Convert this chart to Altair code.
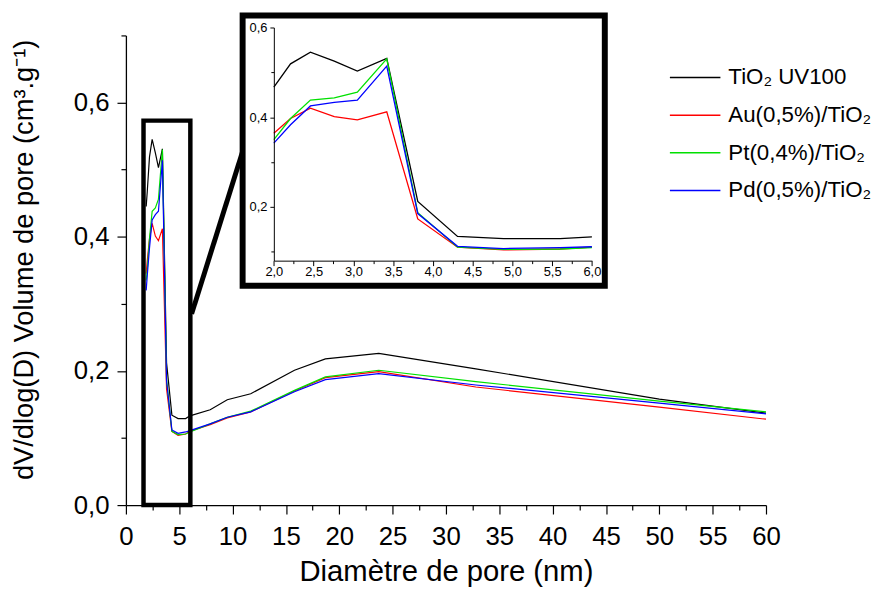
import altair as alt
import pandas as pd

# ---- data ----
diam = [1.9, 2.0, 2.21, 2.46, 2.76, 3.05, 3.42, 3.81, 4.31, 4.89, 5.6, 6.0,
        7.9, 9.5, 11.7, 15.8, 18.7, 23.7, 32.8, 50.0, 60.0]
tio2_uv100 = [0.445, 0.467, 0.519, 0.545, 0.525, 0.503, 0.531, 0.212, 0.134, 0.129, 0.129, 0.133,
              0.142, 0.157, 0.166, 0.201, 0.218, 0.226, 0.203, 0.158, 0.137]
au_tio2 = [0.345, 0.364, 0.397, 0.420, 0.401, 0.394, 0.412, 0.173, 0.110, 0.104, 0.106, 0.110,
           0.120, 0.130, 0.139, 0.170, 0.190, 0.199, 0.176, 0.146, 0.128]
pt_tio2 = [0.335, 0.350, 0.397, 0.438, 0.443, 0.456, 0.530, 0.187, 0.110, 0.105, 0.106, 0.109,
           0.121, 0.131, 0.140, 0.171, 0.191, 0.201, 0.184, 0.155, 0.139]
pd_tio2 = [0.320, 0.342, 0.383, 0.425, 0.433, 0.438, 0.514, 0.185, 0.112, 0.107, 0.109, 0.111,
           0.121, 0.131, 0.139, 0.169, 0.187, 0.196, 0.179, 0.152, 0.136]

series_names = ["TiO\u2082 UV100", "Au(0,5%)/TiO\u2082", "Pt(0,4%)/TiO\u2082", "Pd(0,5%)/TiO\u2082"]
series_colors = ["#000000", "#ff0000", "#00e000", "#0000ff"]

x_ticks = [i * 2.5 for i in range(25)]
y_ticks = [round(i * 0.1, 1) for i in range(8)]
inset_x_ticks = [2.0 + i * 0.25 for i in range(17)]
inset_y_ticks = [0.1, 0.2, 0.3, 0.4, 0.5, 0.6]

# annotation shapes (in main-axis data units)
zoom_box_d = [1.65, 6.04]
zoom_box_v = [0.0, 0.573]
connector_d = [6.16, 10.94]
connector_v = [0.285, 0.527]
inset_box_d = [10.94, 44.89]
inset_box_v = [0.327, 0.7296]

rows = []
for name, vals in zip(series_names, [tio2_uv100, au_tio2, pt_tio2, pd_tio2]):
    for d, v in zip(diam, vals):
        rows.append({"serie": name, "d": d, "v": v})
df = pd.DataFrame(rows)

FONT = "Liberation Sans"
x_main = alt.Scale(domain=[0, 60], nice=False, zero=False)
y_main = alt.Scale(domain=[0, 0.7], nice=False, zero=False)

color_enc = alt.Color(
    "serie:N",
    scale=alt.Scale(domain=series_names, range=series_colors),
    sort=series_names,
    legend=alt.Legend(
        orient="none", legendX=548, legendY=16, title=None,
        symbolType="stroke", symbolSize=2601, symbolStrokeWidth=1.5,
        labelFont=FONT, labelFontSize=22.5, labelColor="black", labelOffset=7,
        rowPadding=-21.5, padding=0, labelLimit=400,
    ),
)

x_axis_main = alt.Axis(
    values=x_ticks,
    labelExpr="datum.value % 5 == 0 ? format(datum.value, 'd') : ''",
    tickSize={"condition": {"test": "datum.value % 5 == 0", "value": 9}, "value": 5},
    labelPadding=10, labelFontSize=26, labelFont=FONT, labelColor="black",
    tickColor="black", tickWidth=1.2, domainColor="black", domainWidth=1.3,
    grid=False, labelFlush=False, labelOverlap=False,
    title="Diamètre de pore (nm)", titleFont=FONT, titleFontSize=29.5,
    titleFontWeight="normal", titleColor="black", titleY=76,
    titleBaseline="alphabetic",
)
y_axis_main = alt.Axis(
    values=y_ticks,
    labelExpr="round(datum.value * 10) % 2 == 0 ? replace(format(datum.value, '.1f'), '.', ',') : ''",
    tickSize={"condition": {"test": "round(datum.value * 10) % 2 == 0", "value": 9}, "value": 5},
    labelPadding=8, labelFontSize=26, labelFont=FONT, labelColor="black",
    tickColor="black", tickWidth=1.2, domainColor="black", domainWidth=1.3,
    grid=False, labelFlush=False, labelOverlap=False,
    title="dV/dlog(D) Volume de pore (cm\u00b3.g\u207b\u00b9)", titleFont=FONT,
    titleFontSize=27.5, titleFontWeight="normal", titleColor="black",
    titleX=-94, titleY=226, titleBaseline="alphabetic", titleAngle=270,
)

main = alt.Chart(df).mark_line(strokeWidth=1.2).encode(
    x=alt.X("d:Q", scale=x_main, axis=x_axis_main),
    y=alt.Y("v:Q", scale=y_main, axis=y_axis_main),
    color=color_enc,
)


def shape_df(dd, vv):
    return pd.DataFrame({"d": [dd[0]], "d2": [dd[1]], "v": [vv[0]], "v2": [vv[1]]})


zoom_box = alt.Chart(shape_df(zoom_box_d, zoom_box_v)).mark_rect(
    fillOpacity=0, stroke="black", strokeWidth=4.5
).encode(
    x=alt.X("d:Q", scale=x_main, axis=x_axis_main), x2="d2:Q",
    y=alt.Y("v:Q", scale=y_main, axis=y_axis_main), y2="v2:Q",
)

connector = alt.Chart(shape_df(connector_d, connector_v)).mark_rule(
    color="black", strokeWidth=5
).encode(
    x=alt.X("d:Q", scale=x_main, axis=x_axis_main), x2="d2:Q",
    y=alt.Y("v:Q", scale=y_main, axis=y_axis_main), y2="v2:Q",
)

inset_bg = alt.Chart(shape_df(inset_box_d, inset_box_v)).mark_rect(
    fill="white", stroke="black", strokeWidth=6
).encode(
    x=alt.X("d:Q", scale=x_main, axis=x_axis_main), x2="d2:Q",
    y=alt.Y("v:Q", scale=y_main, axis=y_axis_main), y2="v2:Q",
)

base = alt.layer(main, connector, zoom_box, inset_bg)

inset = alt.Chart(df).transform_filter(
    "datum.d >= 2 && datum.d <= 6"
).mark_line(strokeWidth=1.3).encode(
    x=alt.X("d:Q", scale=alt.Scale(domain=[2, 6], range=[149.3, 470.3], nice=False, zero=False),
            axis=alt.Axis(
                orient="bottom", offset=-246.7, zindex=1, values=inset_x_ticks,
                labelExpr="round(datum.value * 4) % 2 == 0 ? replace(format(datum.value, '.1f'), '.', ',') : ''",
                tickSize={"condition": {"test": "round(datum.value * 4) % 2 == 0", "value": 5}, "value": 3},
                labelPadding=0, labelFontSize=13, labelFont=FONT, labelColor="black",
                tickColor="black", tickWidth=1, domainColor="black", domainWidth=1,
                grid=False, labelFlush=False, labelOverlap=False, title=None,
            )),
    y=alt.Y("v:Q", scale=alt.Scale(domain=[0.08, 0.6], range=[227.3, -8], nice=False, zero=False),
            axis=alt.Axis(
                orient="left", offset=-149.3, zindex=1, values=inset_y_ticks,
                labelExpr="round(datum.value * 10) % 2 == 0 ? replace(format(datum.value, '.1f'), '.', ',') : ''",
                tickSize={"condition": {"test": "round(datum.value * 10) % 2 == 0", "value": 4}, "value": 3},
                labelPadding=3, labelFontSize=13, labelFont=FONT, labelColor="black",
                tickColor="black", tickWidth=1, domainColor="black", domainWidth=1,
                grid=False, labelFlush=False, labelOverlap=False, title=None,
            )),
    color=color_enc,
)

chart = alt.layer(base, inset).resolve_scale(
    x="independent", y="independent"
).properties(
    width=646, height=474,
    autosize=alt.AutoSizeParams(type="none"),
    padding={"left": 119, "top": 25, "right": 109, "bottom": 82},
    background="white",
).configure_view(stroke=None)

chart.save("out.html", embed_options={"renderer": "svg", "actions": False})
